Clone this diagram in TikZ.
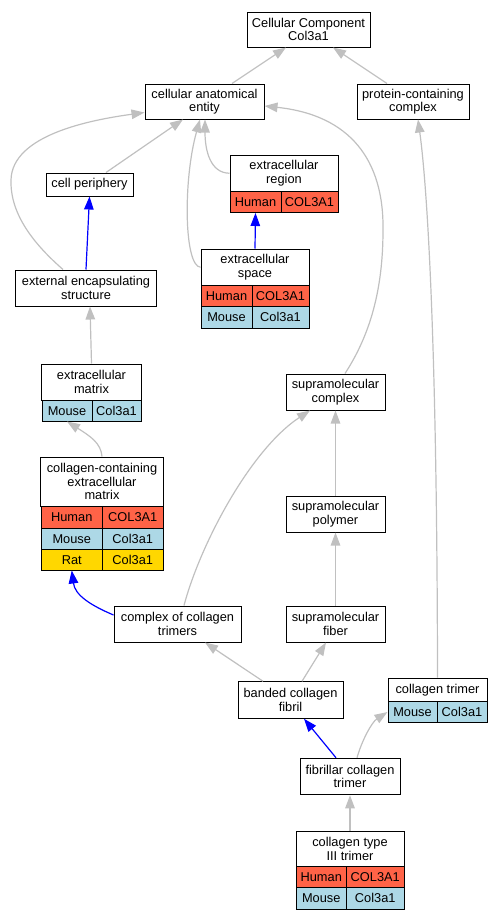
\documentclass[tikz,border=0pt]{standalone}
\usepackage{fontspec}
\setmainfont{Liberation Sans}
\usetikzlibrary{arrows.meta}

\definecolor{human}{HTML}{FF6347}
\definecolor{mouse}{HTML}{ADD8E6}
\definecolor{rat}{HTML}{FFD700}
\definecolor{isagrey}{HTML}{C0C0C0}

\newcommand{\gofont}{\fontsize{12.8bp}{13.4bp}\selectfont}

\tikzset{
  term/.style = {draw, line width=1bp, fill=white, inner sep=0pt, align=center, font=\gofont},
  cell/.style = {draw, line width=1bp, inner sep=0pt, font=\gofont, text height=9.2bp, text depth=0pt},
  isa/.style = {draw=isagrey, line width=1.2bp, -{Triangle[length=13bp, width=9.5bp]}},
  partof/.style = {draw=blue, line width=1.2bp, -{Triangle[length=13bp, width=9.5bp]}},
}

\begin{document}
\begin{tikzpicture}[x=1bp, y=-1bp]
	\useasboundingbox (0,0) rectangle (503,920);

	% plain terms
	\begin{scope}
		\node [term, minimum width=123bp, minimum height=35bp] (cc) at (308.5,29.5) {Cellular Component\\Col3a1};
		\node [term, minimum width=119bp, minimum height=35bp] (cae) at (204.5,101.5) {cellular anatomical\\entity};
		\node [term, minimum width=112bp, minimum height=35bp] (pcc) at (413,101.5) {protein-containing\\complex};
		\node [term, minimum width=87bp, minimum height=23bp] (cp) at (89.5,184.5) {cell periphery};
		\node [term, minimum width=140bp, minimum height=36bp] (ees) at (86,288) {external encapsulating\\structure};
		\node [term, minimum width=99bp, minimum height=36bp] (sc) at (335.5,392) {supramolecular\\complex};
		\node [term, minimum width=99bp, minimum height=36bp] (sp) at (335.5,514) {supramolecular\\polymer};
		\node [term, minimum width=127bp, minimum height=36bp] (cct) at (177.5,624) {complex of collagen\\trimers};
		\node [term, minimum width=99bp, minimum height=36bp] (sf) at (335.5,624) {supramolecular\\fiber};
		\node [term, minimum width=105bp, minimum height=36.5bp] (bcf) at (290.5,700) {banded collagen\\fibril};
		\node [term, minimum width=100bp, minimum height=36.5bp] (fct) at (350,776.5) {fibrillar collagen\\trimer};
	\end{scope}

	% extracellular region
	\node [term, minimum width=108bp, minimum height=36.5bp] (er) at (284,173.25) {extracellular\\region};
	\node [cell, fill=human, minimum width=51bp, minimum height=21bp] (erHs) at (255.5,202) {Human};
	\node [cell, fill=human, minimum width=57bp, minimum height=21bp] (erHg) at (309.5,202) {COL3A1};

	% extracellular space
	\node [term, minimum width=108bp, minimum height=36.5bp] (es) at (255,267.25) {extracellular\\space};
	\node [cell, fill=human, minimum width=51bp, minimum height=21bp] (esHs) at (226.5,296) {Human};
	\node [cell, fill=human, minimum width=57bp, minimum height=21bp] (esHg) at (280.5,296) {COL3A1};
	\node [cell, fill=mouse, minimum width=51bp, minimum height=21.5bp] (esMs) at (226.5,317.25) {Mouse};
	\node [cell, fill=mouse, minimum width=57bp, minimum height=21.5bp] (esMg) at (280.5,317.25) {Col3a1};

	% extracellular matrix
	\node [term, minimum width=99bp, minimum height=36bp] (em) at (91.5,382) {extracellular\\matrix};
	\node [cell, fill=mouse, minimum width=50bp, minimum height=21bp] (emMs) at (67,410.5) {Mouse};
	\node [cell, fill=mouse, minimum width=49bp, minimum height=21bp] (emMg) at (116.5,410.5) {Col3a1};

	% collagen-containing extracellular matrix
	\node [term, minimum width=122bp, minimum height=49bp] (ccem) at (102,481.5) {collagen-containing\\extracellular\\matrix};
	\node [cell, fill=human, minimum width=61.5bp, minimum height=22bp] (ccemHs) at (71.75,517) {Human};
	\node [cell, fill=human, minimum width=60.5bp, minimum height=22bp] (ccemHg) at (132.75,517) {COL3A1};
	\node [cell, fill=mouse, minimum width=61.5bp, minimum height=21bp] (ccemMs) at (71.75,538.5) {Mouse};
	\node [cell, fill=mouse, minimum width=60.5bp, minimum height=21bp] (ccemMg) at (132.75,538.5) {Col3a1};
	\node [cell, fill=rat, minimum width=61.5bp, minimum height=21bp] (ccemRs) at (71.75,559.5) {Rat};
	\node [cell, fill=rat, minimum width=60.5bp, minimum height=21bp] (ccemRg) at (132.75,559.5) {Col3a1};

	% collagen trimer
	\node [term, minimum width=99bp, minimum height=23.5bp] (ct) at (437.5,689.75) {collagen trimer};
	\node [cell, fill=mouse, minimum width=49bp, minimum height=21bp] (ctMs) at (412.5,712) {Mouse};
	\node [cell, fill=mouse, minimum width=50bp, minimum height=21bp] (ctMg) at (462,712) {Col3a1};

	% collagen type III trimer
	\node [term, minimum width=108bp, minimum height=35.5bp] (c3) at (350,848.75) {collagen type\\III trimer};
	\node [cell, fill=human, minimum width=50.5bp, minimum height=21bp] (c3Hs) at (321.25,877) {Human};
	\node [cell, fill=human, minimum width=57.5bp, minimum height=21bp] (c3Hg) at (375.25,877) {COL3A1};
	\node [cell, fill=mouse, minimum width=50.5bp, minimum height=21.5bp] (c3Ms) at (321.25,898.25) {Mouse};
	\node [cell, fill=mouse, minimum width=57.5bp, minimum height=21.5bp] (c3Mg) at (375.25,898.25) {Col3a1};

	% is_a
	\begin{scope}[isa]
		\draw ([xshift=27.5bp]cae.north) -- ([xshift=-22.5bp]cc.south);
		\draw ([xshift=-26bp]pcc.north) -- ([xshift=24.5bp]cc.south);
		\draw ([xshift=16.5bp]cp.north) -- ([xshift=-21.5bp]cae.south);
		\draw (er.west) .. controls (210,173) and (205,150) .. ([xshift=0.5bp]cae.south);
		\draw (es.west) .. controls (184,266) and (183,180) .. ([xshift=-4.5bp]cae.south);
		\draw ([xshift=-23bp]ees.north) .. controls (35,245) and (10,215) .. (11,180)
			.. controls (12,135) and (90,120) .. ([yshift=-11bp]cae.west);
		\draw ([xshift=9.5bp]sc.north) .. controls (370,335) and (383,290) .. (383,230)
			.. controls (384,160) and (350,115) .. ([yshift=-4.5bp]cae.east);
		\draw (ct.north) .. controls (437,300) and (425,170) .. ([xshift=5bp]pcc.south);
		\draw (em.north) -- ([xshift=4bp]ees.south);
		\draw (ccem.north) .. controls (101,443) and (90,436) .. (emMs.south);
		\draw ([xshift=6.5bp]cct.north) .. controls (200,545) and (250,450) .. ([xshift=-25.5bp]sc.south);
		\draw (sp.north) -- (sc.south);
		\draw (sf.north) -- (sp.south);
		\draw ([xshift=-27.5bp]bcf.north) -- ([xshift=27.5bp]cct.south);
		\draw ([xshift=11.5bp]bcf.north) -- ([xshift=-9.5bp]sf.south);
		\draw ([xshift=7bp]fct.north) .. controls (362,740) and (372,722) .. (ctMs.west);
		\draw (c3.north) -- (fct.south);
	\end{scope}

	% part_of
	\begin{scope}[partof]
		\draw (ees.north) -- (cp.south);
		\draw (es.north) -- (erHs.south);
		\draw ([yshift=9bp]cct.west) .. controls (90,605) and (75,595) .. (ccemRs.south);
		\draw ([xshift=-14bp]fct.north) -- ([xshift=13.5bp]bcf.south);
	\end{scope}
\end{tikzpicture}
\end{document}
